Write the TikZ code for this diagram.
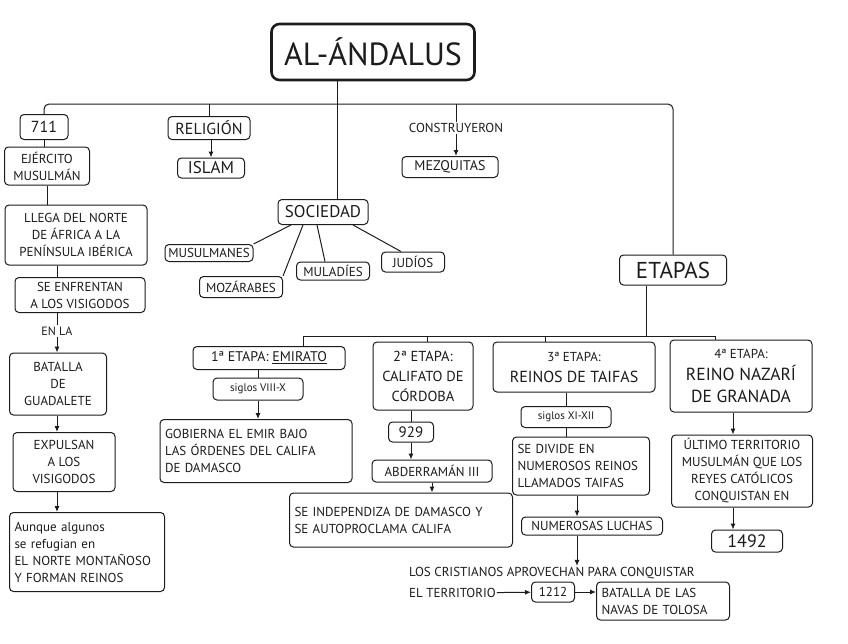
\documentclass[tikz,border=0pt]{standalone}
\usepackage{fontspec}
\setmainfont{PT Sans}
\usetikzlibrary{arrows.meta, positioning, calc}
\definecolor{ink}{HTML}{1C1C1C}
\tikzset{
  card/.style={rectangle, rounded corners=4pt, draw=ink, line width=1pt, align=center,
               inner sep=2pt, text=ink, font=\fontsize{13}{17}\selectfont},
  textcard/.style={card, align=left, inner xsep=5pt},
  headcard/.style={card, font=\fontsize{14}{19}\selectfont},
  tag/.style={card, font=\fontsize{11}{13}\selectfont},
  titlebox/.style={card, rounded corners=8pt, line width=2.6pt, font=\fontsize{32}{36}\selectfont},
  lbl/.style={font=\fontsize{13}{15}\selectfont, text=ink, inner sep=1pt},
  link/.style={draw=ink, line width=1pt},
  flow/.style={link, -{Latex[length=6pt, width=5pt]}},
}

\begin{document}
\begin{tikzpicture}[x=1pt, y=-1pt]
\fill[white] (0,0) rectangle (848,643);

% Title
\node[titlebox, minimum width=203, minimum height=56] (title) at (373,52) {AL-ÁNDALUS};

% Left column: 711
\node[card, minimum width=48, minimum height=25, font=\fontsize{16}{18}\selectfont] (n711) at (44,127) {711};
\node[card, minimum width=85, minimum height=38] (ejercito) at (47,166) {EJÉRCITO\\MUSULMÁN};
\node[card, minimum width=142, minimum height=60] (llega) at (76,235) {LLEGA DEL NORTE\\DE ÁFRICA A LA\\PENÍNSULA IBÉRICA};
\node[card, minimum width=130, minimum height=35] (enfrentan) at (80,295) {SE ENFRENTAN\\A LOS VISIGODOS};
\node[lbl, font=\fontsize{12}{14}\selectfont] (enla) at (57,331) {EN LA};
\node[card, minimum width=97, minimum height=62] (batalla) at (58,384) {BATALLA\\DE\\GUADALETE};
\node[card, minimum width=102, minimum height=59] (expulsan) at (64,462) {EXPULSAN\\A LOS\\VISIGODOS};
\node[textcard, text width=145, minimum height=79] (aunque) at (87,552)
  {Aunque algunos\\se refugian en\\EL NORTE MONTAÑOSO\\Y FORMAN REINOS};

% Religion and mosques
\node[card, minimum width=82, minimum height=23, font=\fontsize{16}{18}\selectfont] (religion) at (209,128) {RELIGIÓN};
\node[card, minimum width=67, minimum height=20, font=\fontsize{17}{18}\selectfont] (islam) at (211,168) {ISLAM};
\node[lbl] (construyeron) at (456,128) {CONSTRUYERON};
\node[card, minimum width=96, minimum height=21, font=\fontsize{14}{16}\selectfont] (mezquitas) at (450,167) {MEZQUITAS};

% Society
\node[card, minimum width=90, minimum height=25, font=\fontsize{17}{19}\selectfont] (sociedad) at (323,212) {SOCIEDAD};
\node[card, minimum width=88, minimum height=17] (musulmanes) at (209,253) {MUSULMANES};
\node[card, minimum width=83, minimum height=21] (mozarabes) at (241,287) {MOZÁRABES};
\node[card, minimum width=73, minimum height=18] (muladies) at (333,271) {MULADÍES};
\node[card, minimum width=63, minimum height=20] (judios) at (413,262) {JUDÍOS};

% Stages
\node[card, minimum width=107, minimum height=30, font=\fontsize{23}{25}\selectfont] (etapas) at (673,270) {ETAPAS};

\node[headcard, minimum width=152, minimum height=23] (e1) at (269,358) {1ª ETAPA: \underline{EMIRATO}};
\node[tag, minimum width=90, minimum height=22] (siglos1) at (258,389) {siglos VIII-X};
\node[textcard, text width=182, minimum height=63] (gobierna) at (256,451)
  {GOBIERNA EL EMIR BAJO\\LAS ÓRDENES DEL CALIFA\\DE DAMASCO};

\node[headcard, minimum width=100, minimum height=68, font=\fontsize{14.5}{20}\selectfont] (e2) at (423,376)
  {2ª ETAPA:\\CALIFATO DE\\CÓRDOBA};
\node[card, minimum width=45, minimum height=20, font=\fontsize{15}{17}\selectfont] (y929) at (411,432) {929};
\node[card, minimum width=120, minimum height=22] (abderraman) at (432,471) {ABDERRAMÁN III};
\node[textcard, text width=213, minimum height=54] (independiza) at (401,520)
  {SE INDEPENDIZA DE DAMASCO Y\\SE AUTOPROCLAMA CALIFA};

\node[headcard, minimum width=162, minimum height=50, font=\fontsize{16}{21}\selectfont] (e3) at (574,367)
  {{\fontsize{13}{15}\selectfont 3ª ETAPA:}\\REINOS DE TAIFAS};
\node[tag, minimum width=90, minimum height=21] (siglos3) at (566,417) {siglos XI-XII};
\node[textcard, text width=127, minimum height=58] (divide) at (581,466)
  {SE DIVIDE EN\\NUMEROSOS REINOS\\LLAMADOS TAIFAS};
\node[card, minimum width=141, minimum height=18] (luchas) at (592,526) {NUMEROSAS LUCHAS};
\node[lbl, anchor=west] (cristianos) at (408,573) {LOS CRISTIANOS APROVECHAN PARA CONQUISTAR};
\node[lbl, anchor=west] (territorio) at (408,593) {EL TERRITORIO};
\node[card, minimum width=43, minimum height=20] (y1212) at (553,592) {1212};
\node[textcard, text width=123, minimum height=38] (navas) at (663,601)
  {BATALLA DE LAS\\NAVAS DE TOLOSA};

\node[headcard, minimum width=142, minimum height=72, font=\fontsize{17.5}{22}\selectfont] (e4) at (741,376)
  {{\fontsize{13}{15}\selectfont 4ª ETAPA:}\\REINO NAZARÍ\\DE GRANADA};
\node[card, minimum width=141, minimum height=72] (ultimo) at (742,471)
  {ÚLTIMO TERRITORIO\\MUSULMÁN QUE LOS\\REYES CATÓLICOS\\CONQUISTAN EN};
\node[card, minimum width=71, minimum height=22, font=\fontsize{18}{20}\selectfont] (y1492) at (747,541) {1492};

% Main bar under the title
\coordinate (bar) at (0,104);
\draw[link, rounded corners=5pt] (n711.north) |- (bar -| etapas.north) -- (etapas.north);
\draw[link] (religion.north) -- (religion.north |- bar);
\draw[link] (construyeron.north) -- (construyeron.north |- bar);
\coordinate (socin) at ($(sociedad.north)+(14,0)$);
\draw[link] (title.south -| socin) -- (socin);

% Left column links
\draw[link] (n711.south) -- (n711.south |- ejercito.north);
\draw[link] (ejercito.south) -- (ejercito.south |- llega.north);
\draw[link] (llega.south -| enla) -- (enfrentan.north -| enla);
\draw[link] (enfrentan.south -| enla) -- (enla);
\draw[flow] (enla) -- (batalla.north -| enla);
\draw[flow] (batalla.south -| enla) -- (expulsan.north -| enla);
\draw[flow] (expulsan.south -| enla) -- (aunque.north -| enla);

\draw[flow] (religion.south -| islam) -- (islam);
\draw[flow] (construyeron) -- (construyeron.south |- mezquitas.north);

% Society branches
\draw[link] ([xshift=-32]sociedad.south) -- (musulmanes.north east);
\draw[link] ([xshift=-20]sociedad.south) -- (mozarabes.north east);
\draw[link] ([xshift=-6]sociedad.south) -- ([xshift=-8]muladies.north);
\draw[link] ([xshift=30]sociedad.south) -- ([xshift=-12]judios.north);

% Stage bar
\coordinate (d1) at (303,336);
\coordinate (d2) at (427,336);
\coordinate (d3) at (545,336);
\coordinate (d4) at (715,336);
\draw[link] ([xshift=-27]etapas.south) -- ([xshift=-27]etapas.south |- d1);
\draw[link] (d1) -- (d4);
\foreach \d/\e in {d1/e1, d2/e2, d3/e3, d4/e4}
  \draw[link] (\d) -- (\d |- \e.north);

% Stage 1
\draw[link] (e1.south -| siglos1) -- (siglos1);
\draw[flow] (siglos1) -- (siglos1 |- gobierna.north);
% Stage 2
\draw[link] (e2.south -| y929) -- (y929);
\draw[flow] (y929) -- (y929 |- abderraman.north);
\draw[flow] (abderraman) -- (abderraman |- independiza.north);
% Stage 3
\draw[link] (e3.south -| siglos3) -- (siglos3);
\draw[link] (siglos3) -- (siglos3 |- divide.north);
\draw[flow] ([xshift=-4]divide.south) -- ([xshift=-4]divide.south |- luchas.north);
\draw[flow] ([xshift=-15]luchas.south) -- ([xshift=-15]luchas.south |- cristianos.north);
\draw[flow] (territorio) -- (y1212);
\draw[flow] (y1212.east) -- (y1212.east -| navas.west);
% Stage 4
\draw[flow] ([xshift=-8]e4.south) -- ([xshift=-8]e4.south |- ultimo.north);
\draw[flow] ([xshift=-9]ultimo.south) -- ([xshift=-9]ultimo.south |- y1492.north);

\end{tikzpicture}
\end{document}
